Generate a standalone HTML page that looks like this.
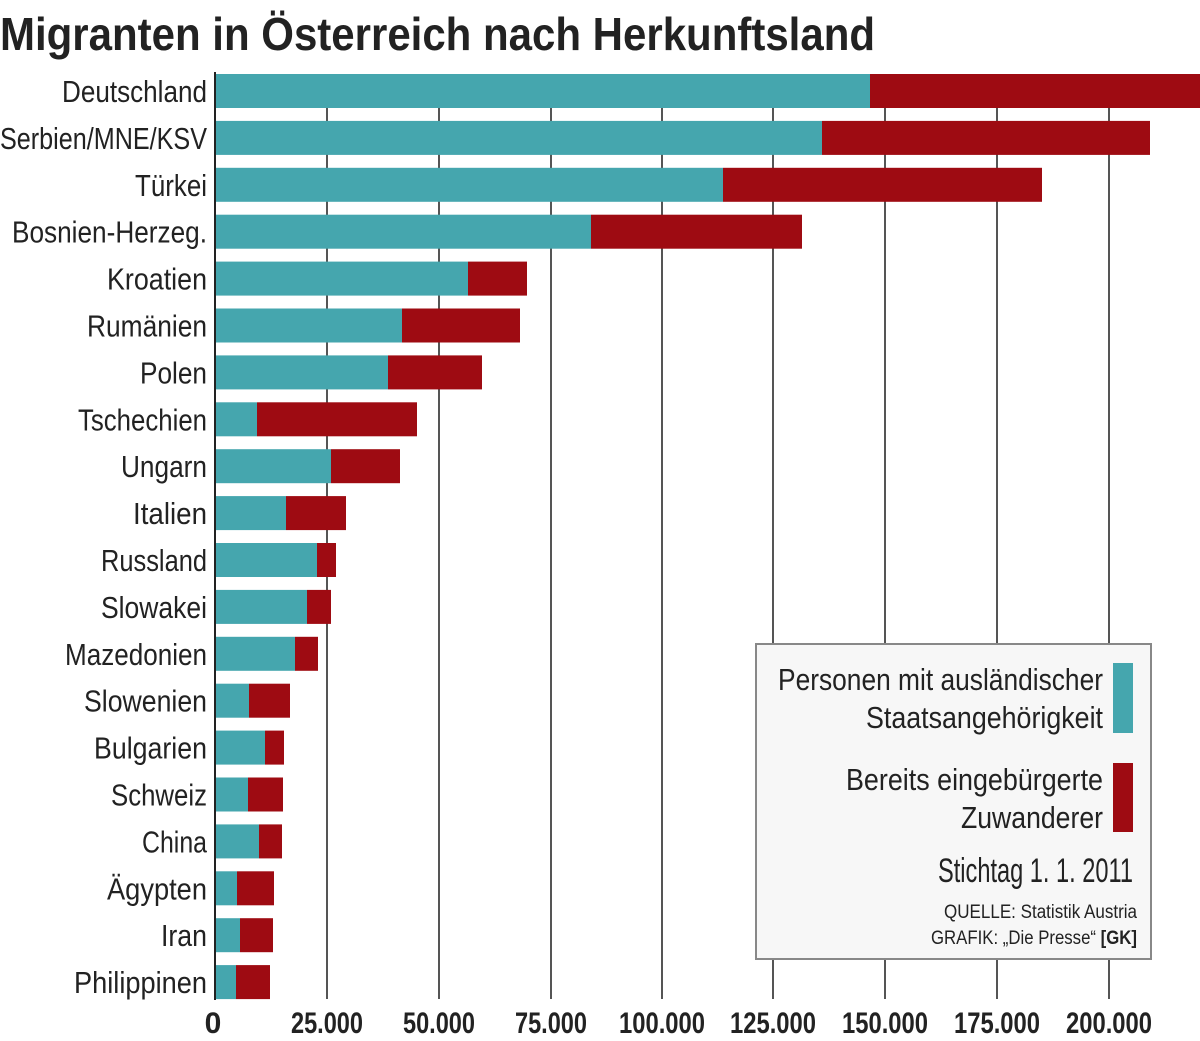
<!DOCTYPE html>
<html><head><meta charset="utf-8"><style>html,body{margin:0;padding:0;background:#fff}svg{display:block}text{font-family:"Liberation Sans Narrow","Liberation Sans",sans-serif;fill:#222}</style></head>
<body>
<svg width="1200" height="1041" viewBox="0 0 1200 1041" xmlns="http://www.w3.org/2000/svg">
<rect width="1200" height="1041" fill="#fff"/>
<text x="0" y="50" font-size="46" font-weight="bold" textLength="875" lengthAdjust="spacingAndGlyphs" fill="#1a1a1a">Migranten in Österreich nach Herkunftsland</text>
<g stroke="#555" stroke-width="2">
<line x1="327" y1="74" x2="327" y2="999"/><line x1="439" y1="74" x2="439" y2="999"/><line x1="551" y1="74" x2="551" y2="999"/><line x1="662" y1="74" x2="662" y2="999"/><line x1="773" y1="74" x2="773" y2="999"/><line x1="885" y1="74" x2="885" y2="999"/><line x1="997" y1="74" x2="997" y2="999"/><line x1="1109" y1="74" x2="1109" y2="999"/>
</g>
<g id="bars"></g>
<line x1="215" y1="72" x2="215" y2="1000" stroke="#222" stroke-width="2"/>
<g font-size="31" text-anchor="end" id="labels"></g>
<g font-size="30" font-weight="bold" text-anchor="middle" fill="#222">
<text x="213" y="1033">0</text>
<text x="327" y="1033" textLength="72" lengthAdjust="spacingAndGlyphs">25.000</text>
<text x="439" y="1033" textLength="72" lengthAdjust="spacingAndGlyphs">50.000</text>
<text x="551" y="1033" textLength="72" lengthAdjust="spacingAndGlyphs">75.000</text>
<text x="662" y="1033" textLength="86" lengthAdjust="spacingAndGlyphs">100.000</text>
<text x="773" y="1033" textLength="86" lengthAdjust="spacingAndGlyphs">125.000</text>
<text x="885" y="1033" textLength="86" lengthAdjust="spacingAndGlyphs">150.000</text>
<text x="997" y="1033" textLength="86" lengthAdjust="spacingAndGlyphs">175.000</text>
<text x="1109" y="1033" textLength="86" lengthAdjust="spacingAndGlyphs">200.000</text>
</g>
<rect x="756" y="644" width="395" height="315" fill="#f7f7f7" stroke="#888" stroke-width="2"/>
<rect x="1113" y="663" width="20" height="70" fill="#45a6ae"/>
<rect x="1113" y="763" width="20" height="69" fill="#9e0b12"/>
<g font-size="31" text-anchor="end">
<text x="1103" y="690" textLength="325" lengthAdjust="spacingAndGlyphs">Personen mit ausländischer</text>
<text x="1103" y="728" textLength="237" lengthAdjust="spacingAndGlyphs">Staatsangehörigkeit</text>
<text x="1103" y="790" textLength="257" lengthAdjust="spacingAndGlyphs">Bereits eingebürgerte</text>
<text x="1103" y="828" textLength="142" lengthAdjust="spacingAndGlyphs">Zuwanderer</text>
<text x="1133" y="882" font-size="34" textLength="195" lengthAdjust="spacingAndGlyphs">Stichtag 1. 1. 2011</text>
<text x="1137" y="918" font-size="19" fill="#444" textLength="193" lengthAdjust="spacingAndGlyphs">QUELLE: Statistik Austria</text>
<text x="1137" y="944" font-size="19" fill="#444" textLength="206" lengthAdjust="spacingAndGlyphs">GRAFIK: „Die Presse“ <tspan font-weight="bold" fill="#222">[GK]</tspan></text>
</g>
<script>
var d=[["Deutschland",870,1200,145],["Serbien/MNE/KSV",822,1150,207],["Türkei",723,1042,72],["Bosnien-Herzeg.",591,802,195],["Kroatien",468,527,100],["Rumänien",402,520,120],["Polen",388,482,67],["Tschechien",257,417,129],["Ungarn",331,400,86],["Italien",286,346,74],["Russland",317,336,106],["Slowakei",307,331,106],["Mazedonien",295,318,142],["Slowenien",249,290,123],["Bulgarien",265,284,113],["Schweiz",248,283,96],["China",259,282,65],["Ägypten",237,274,100],["Iran",240,273,46],["Philippinen",236,270,133]];
var NS="http://www.w3.org/2000/svg",b=document.getElementById("bars"),l=document.getElementById("labels");
d.forEach(function(r,i){var y=74+46.9*i;
function rc(x1,x2,c){var e=document.createElementNS(NS,"rect");e.setAttribute("x",x1);e.setAttribute("y",y);e.setAttribute("width",x2-x1);e.setAttribute("height",34);e.setAttribute("fill",c);b.appendChild(e);}
rc(216,r[1],"#45a6ae");rc(r[1],r[2],"#9e0b12");
var t=document.createElementNS(NS,"text");t.setAttribute("x",207);t.setAttribute("y",y+28);t.setAttribute("textLength",r[3]);t.setAttribute("lengthAdjust","spacingAndGlyphs");t.textContent=r[0];l.appendChild(t);});
</script>
</svg>
</body></html>
